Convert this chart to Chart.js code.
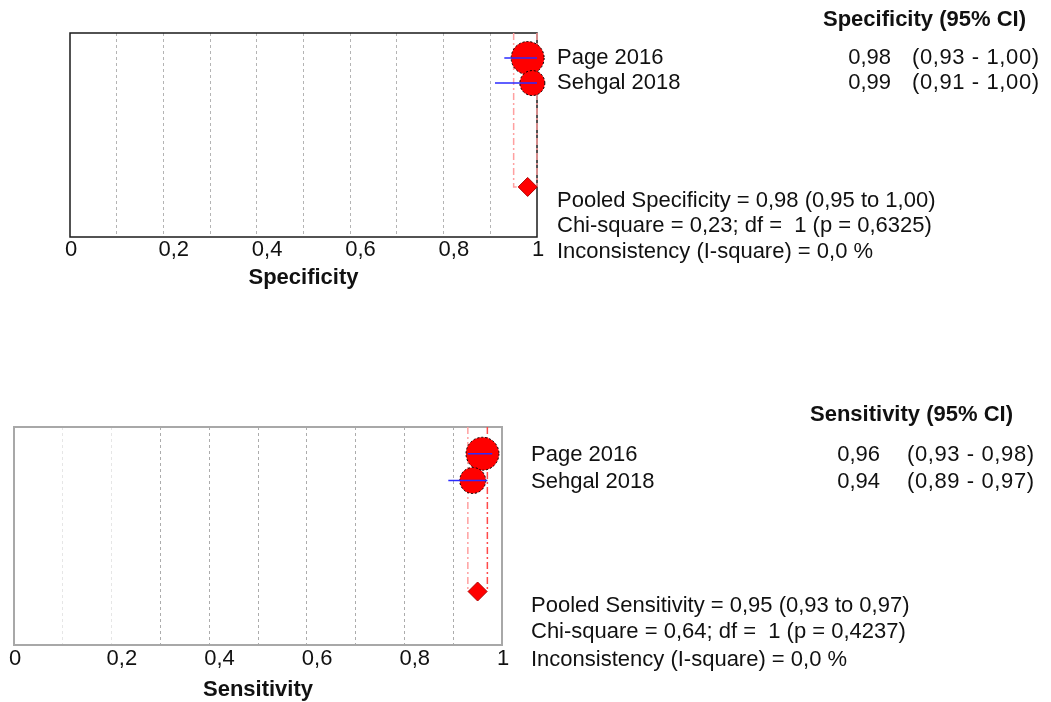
<!DOCTYPE html>
<html>
<head>
<meta charset="utf-8">
<script src="https://cdn.jsdelivr.net/npm/chart.js@4"></script>
<style>
  html, body { margin: 0; padding: 0; background: #fff; }
  .panel { position: absolute; left: 0; width: 1051px; height: 351px; }
  #specWrap { top: 0; }
  #sensWrap { top: 351px; }
</style>
</head>
<body>
<div class="panel" id="specWrap"><canvas id="spec" width="1051" height="351"></canvas></div>
<div class="panel" id="sensWrap"><canvas id="sens" width="1051" height="351"></canvas></div>
<script>
// ---- study data ----
const studies = ['Page 2016', 'Sehgal 2018'];

const specEstimate = [0.98, 0.99];
const specLower    = [0.93, 0.91];
const specUpper    = [1.00, 1.00];
const specPooled   = [0.98, 0.95, 1.00];       // estimate, lower, upper
const specHetero   = [0.23, 1, 0.6325, 0.0];   // chi-square, df, p, I-square

const sensEstimate = [0.96, 0.94];
const sensLower    = [0.93, 0.89];
const sensUpper    = [0.98, 0.97];
const sensPooled   = [0.95, 0.93, 0.97];
const sensHetero   = [0.64, 1, 0.4237, 0.0];

const tickLabels = [0, 0.2, 0.4, 0.6, 0.8, 1];

// ---- drawing ----
const FONT = "'Liberation Sans', Arial, sans-serif";
const FS = 22;
const TEXT = '#111';
const POOLED_ROW = 6.15;
const ROW_MAX = 8.15;

Chart.defaults.font.family = FONT;
Chart.defaults.font.size = FS;
Chart.defaults.color = TEXT;

function fmt(v, d) { return v.toFixed(d).replace('.', ','); }

const forestText = {
  id: 'forestText',
  beforeDatasetsDraw(chart) {
    const s = chart.options.plugins.forestText;
    const a = chart.chartArea;
    const ctx = chart.ctx;
    ctx.save();
    ctx.strokeStyle = s.boxColor;
    ctx.lineWidth = s.boxWidth;
    ctx.strokeRect(a.left, a.top, a.right - a.left, a.bottom - a.top);
    ctx.restore();
  },
  beforeDatasetDraw(chart, args) {
    if (chart.data.datasets[args.index].dashedOutline) chart.ctx.setLineDash([2, 2]);
  },
  afterDatasetDraw(chart) {
    chart.ctx.setLineDash([]);
  },
  afterDraw(chart) {
    const s = chart.options.plugins.forestText;
    const ctx = chart.ctx;
    const y = chart.scales.y;
    ctx.save();
    ctx.fillStyle = TEXT;
    ctx.textBaseline = 'alphabetic';
    ctx.font = `bold ${FS}px ${FONT}`;
    ctx.textAlign = 'left';
    ctx.fillText(`${s.measure} (95% CI)`, s.headerX, s.headerY);
    ctx.font = `${FS}px ${FONT}`;
    s.studies.forEach((name, i) => {
      const by = y.getPixelForValue(i + 1) + s.rowShift;
      ctx.letterSpacing = '0px';
      ctx.textAlign = 'left';
      ctx.fillText(name, s.studyX, by);
      ctx.textAlign = 'right';
      ctx.fillText(fmt(s.estimate[i], 2), s.valueRight, by);
      ctx.textAlign = 'left';
      ctx.letterSpacing = '0.6px';
      ctx.fillText(`(${fmt(s.lower[i], 2)} - ${fmt(s.upper[i], 2)})`, s.ciX, by);
    });
    ctx.letterSpacing = '0px';
    const [pe, pl, pu] = s.pooled;
    const [chi, df, p, i2] = s.hetero;
    const lines = [
      `Pooled ${s.measure} = ${fmt(pe, 2)} (${fmt(pl, 2)} to ${fmt(pu, 2)})`,
      `Chi-square = ${fmt(chi, 2)}; df =  ${df} (p = ${fmt(p, 4)})`,
      `Inconsistency (I-square) = ${fmt(i2, 1)} %`
    ];
    ctx.textAlign = 'left';
    lines.forEach((t, k) => ctx.fillText(t, s.studyX, s.pooledY[k]));
    ctx.restore();
  }
};

function buildPanel(id, p) {
  const rows = p.estimate.map((_, i) => i + 1);
  const datasets = [
    // dash-dot guides at the pooled confidence limits
    { type: 'line', data: [{ x: p.pooled[1], y: 0 }, { x: p.pooled[1], y: POOLED_ROW }, { x: p.pooled[0], y: POOLED_ROW }],
      borderColor: p.guideColors[0], borderWidth: 1.5, borderDash: [7, 3, 2, 3], pointRadius: 0, clip: false, order: 5 },
    { type: 'line', data: [{ x: p.pooled[2], y: 0 }, { x: p.pooled[2], y: POOLED_ROW }],
      borderColor: p.guideColors[1], borderWidth: 1.5, borderDash: [7, 3, 2, 3], pointRadius: 0, clip: false, order: 5 },
    // study point estimates
    { type: 'scatter', data: p.estimate.map((v, i) => ({ x: v, y: rows[i] })),
      pointRadius: p.markerRadius, backgroundColor: '#ff0000', borderColor: '#000', borderWidth: 1,
      dashedOutline: true, clip: false, order: 3 },
    // study confidence intervals
    ...p.lower.map((lo, i) => ({
      type: 'line', data: [{ x: lo, y: rows[i] }, { x: p.upper[i], y: rows[i] }],
      borderColor: '#2a2aff', borderWidth: 1.5, pointRadius: 0, clip: false, order: 2 })),
    // pooled estimate
    { type: 'scatter', data: [{ x: p.pooled[0], y: POOLED_ROW }], pointStyle: 'rectRot', pointRadius: 9.5,
      backgroundColor: '#ff0000', borderColor: '#b00000', borderWidth: 1, clip: false, order: 1 }
  ];

  return new Chart(document.getElementById(id), {
    type: 'scatter',
    data: { datasets },
    plugins: [forestText],
    options: {
      responsive: false,
      animation: false,
      events: [],
      layout: { autoPadding: false, padding: p.padding },
      scales: {
        x: {
          type: 'linear', min: 0, max: 1,
          afterFit(scale) { scale.height = p.axisHeight; },
          ticks: {
            stepSize: 0.1, autoSkip: false, maxRotation: 0, minRotation: 0,
            align: 'start', labelOffset: -5, padding: p.tickPadding, color: TEXT,
            font: { size: FS, family: FONT },
            callback(v) {
              const r = Math.round(v * 10) / 10;
              return tickLabels.includes(r) ? String(r).replace('.', ',') : '';
            }
          },
          grid: {
            drawTicks: false,
            lineWidth: 1,
            color(ctx) {
              const k = Math.round(ctx.tick.value * 10);
              if (k === 0 || k === 10) return 'rgba(0,0,0,0)';
              return p.gridColor(k);
            }
          },
          border: { display: false, dash: [3, 3] },
          title: {
            display: true, text: p.measure, color: TEXT,
            font: { size: FS, weight: 'bold', family: FONT, lineHeight: 1 },
            padding: { top: 0, bottom: p.titlePad }
          }
        },
        y: { type: 'linear', display: false, reverse: true, min: 0, max: ROW_MAX }
      },
      plugins: {
        legend: { display: false },
        tooltip: { enabled: false },
        forestText: Object.assign({
          measure: p.measure, studies, estimate: p.estimate, lower: p.lower, upper: p.upper,
          pooled: p.pooled, hetero: p.hetero
        }, p.text)
      }
    }
  });
}

buildPanel('spec', {
  measure: 'Specificity',
  estimate: specEstimate, lower: specLower, upper: specUpper, pooled: specPooled, hetero: specHetero,
  markerRadius: [16.5, 12.5],
  guideColors: ['#ffa0a0', '#ffa0a0'],
  gridColor: () => '#b4b4b4',
  padding: { left: 70, right: 514, top: 33, bottom: 0 },
  axisHeight: 114, tickPadding: 0, titlePad: 62,
  text: { boxColor: '#1a1a1a', boxWidth: 1.5, headerX: 823, headerY: 25.5, studyX: 557, valueRight: 891, ciX: 912,
          rowShift: 5.8, pooledY: [206.5, 232, 258] }
});

buildPanel('sens', {
  measure: 'Sensitivity',
  estimate: sensEstimate, lower: sensLower, upper: sensUpper, pooled: sensPooled, hetero: sensHetero,
  markerRadius: [16.5, 13],
  guideColors: ['#ffa0a0', '#ff4a4a'],
  gridColor: k => (k <= 2 ? '#e6e6e6' : '#acacac'),
  padding: { left: 14, right: 549, top: 76, bottom: 0 },
  axisHeight: 57, tickPadding: 0.5, titlePad: 1.5,
  text: { boxColor: '#a8a8a8', boxWidth: 2, headerX: 810, headerY: 69.5, studyX: 531, valueRight: 880, ciX: 907,
          rowShift: 7.7, pooledY: [260.5, 287, 315] }
});
</script>
</body>
</html>
